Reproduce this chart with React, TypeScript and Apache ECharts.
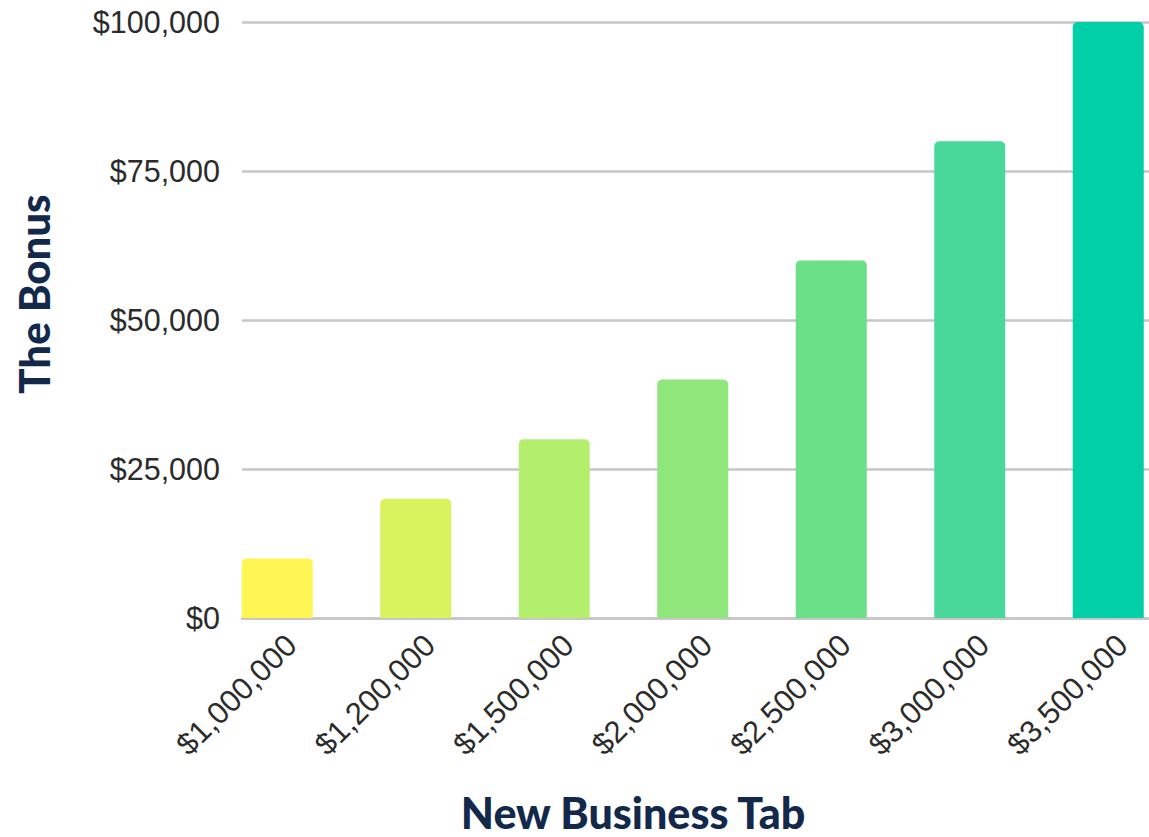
import React, { useEffect, useRef } from "react";
import * as echarts from "echarts";

const categories = ["$1,000,000", "$1,200,000", "$1,500,000", "$2,000,000", "$2,500,000", "$3,000,000", "$3,500,000"];
const bonusValues = [10000, 20000, 30000, 40000, 60000, 80000, 100000];
const barColors = ["#FFF553", "#D9F35E", "#B3EF6D", "#8FE77B", "#6BE089", "#49D89A", "#00CFA8"];
const yTicks = [0, 25000, 50000, 75000, 100000];

const fmt = (v: number) => "$" + Math.round(v).toLocaleString("en-US");

const CW = 1200;

export default function App() {
  const ref = useRef<HTMLDivElement>(null);
  useEffect(() => {
    if (!ref.current) return;
    document.body.style.overflow = "hidden";
    const chart = echarts.init(ref.current, null, { renderer: "svg" });
    const labelFont = "'Liberation Sans', Arial, sans-serif";
    const titleFont = "Lato, 'Open Sans', sans-serif";
    chart.setOption({
      animation: false,
      grid: [
        { left: 208, right: CW - 1177.5, top: 22, bottom: 219 },
        { left: 242, right: CW - 1149, top: 22, bottom: 219 },
        { left: 222, right: CW - 1191.5, top: 22, bottom: 219 },
      ],
      xAxis: [
        {
          type: "category",
          gridIndex: 0,
          data: categories,
          axisLine: { show: false },
          axisTick: { show: false },
          axisLabel: { show: false },
          splitLine: { show: false },
        },
        {
          type: "value",
          gridIndex: 1,
          min: 0,
          max: 1,
          axisLine: { show: true, onZero: false, lineStyle: { color: "#C6C6C6", width: 2.5 } },
          axisTick: { show: false },
          axisLabel: { show: false },
          splitLine: { show: false },
        },
        {
          type: "category",
          gridIndex: 2,
          data: categories,
          axisLine: { show: false },
          axisTick: { show: false },
          axisLabel: {
            show: true,
            rotate: 45,
            margin: 22,
            interval: 0,
            fontSize: 31,
            color: "#2b2b2b",
            fontFamily: labelFont,
          },
          splitLine: { show: false },
        },
      ],
      yAxis: [
        {
          type: "value",
          gridIndex: 0,
          min: yTicks[0],
          max: yTicks[yTicks.length - 1],
          interval: 25000,
          show: false,
        },
        {
          type: "value",
          gridIndex: 1,
          min: yTicks[0],
          max: yTicks[yTicks.length - 1],
          interval: 25000,
          axisLine: { show: false },
          axisTick: { show: false },
          axisLabel: {
            margin: 22,
            fontSize: 30.5,
            color: "#2b2b2b",
            fontFamily: labelFont,
            formatter: (v: number) => fmt(v),
          },
          splitLine: { show: true, lineStyle: { color: "#C6C6C6", width: 2.5 } },
        },
        {
          type: "value",
          gridIndex: 2,
          min: 0,
          max: 100000,
          interval: 25000,
          show: false,
        },
      ],
      graphic: [
        {
          type: "text",
          x: 633,
          y: 812,
          style: {
            text: "New Business Tab",
            fontSize: 43,
            lineHeight: 36,
            fontWeight: 900,
            fontFamily: titleFont,
            fill: "#13294B",
            align: "center",
            verticalAlign: "middle",
          },
        },
        {
          type: "text",
          x: 34,
          y: 294,
          rotation: Math.PI / 2,
          style: {
            text: "The Bonus",
            fontSize: 42,
            fontWeight: 900,
            fontFamily: titleFont,
            fill: "#13294B",
            align: "center",
            verticalAlign: "middle",
          },
        },
      ],
      series: [
        {
          type: "bar",
          xAxisIndex: 0,
          yAxisIndex: 0,
          barWidth: 71,
          z: 3,
          data: bonusValues.map((v, i) => ({
            value: v,
            itemStyle: { color: barColors[i], borderRadius: [5, 5, 0, 0] },
          })),
        },
      ],
    });
    return () => chart.dispose();
  }, []);
  return (
    <div
      ref={ref}
      style={{ position: "fixed", left: 0, top: 0, width: CW, height: 837, background: "#fff" }}
    />
  );
}
